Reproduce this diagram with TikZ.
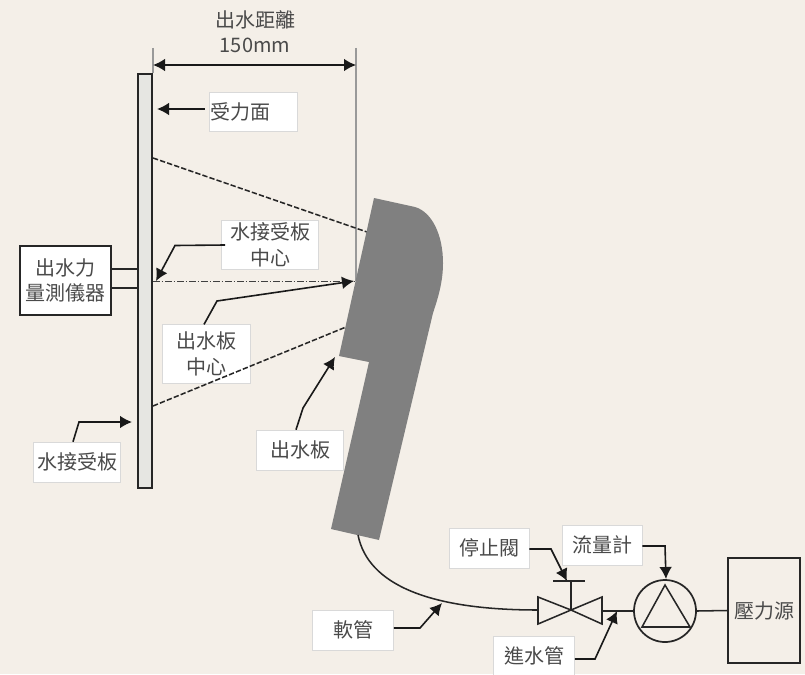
\documentclass[tikz,border=0pt]{standalone}
\usepackage{fontspec}
\setmainfont{Noto Sans CJK TC}
\usetikzlibrary{arrows.meta}
\definecolor{paper}{HTML}{F4EFE8}
\definecolor{inkgray}{HTML}{4A4A4A}
\definecolor{nozzlegray}{HTML}{808080}
\definecolor{platefill}{HTML}{E6E6E2}
\tikzset{
    labelbox/.style={fill=white, draw=black!15, line width=0.4pt, inner sep=0pt, text=inkgray,
        align=center, font=\fontsize{15}{19}\selectfont},
    devicebox/.style={draw=black!85, line width=1.3pt, fill=none, inner sep=0pt, text=inkgray,
        align=center, font=\fontsize{15}{19}\selectfont},
    leader/.style={draw=black!90, line width=1.2pt, -{Latex[length=9pt,width=9.5pt]}},
    pipe/.style={draw=black!85, line width=1.15pt},
    guide/.style={draw=black!40, line width=1.1pt},
    sprayline/.style={draw=black!85, line width=1.15pt, dash pattern=on 4pt off 1.6pt},
}
\begin{document}
\begin{tikzpicture}[x=0.75pt, y=-0.75pt]
    % Page
    \fill[paper] (0, 0) rectangle (805, 674);
    \useasboundingbox (0, 0) rectangle (805, 674);

    % Free ends of the connectors
    \coordinate (faceTop) at (153, 48);
    \coordinate (faceLow) at (153, 73);
    \coordinate (faceLeft) at (153, 65);
    \coordinate (faceRight) at (356, 65);
    \coordinate (railTop) at (356, 48);
    \coordinate (railEnd) at (356, 281);
    \coordinate (faceTip) at (157, 109);
    \coordinate (plateMid) at (153, 281);
    \coordinate (sprayTopA) at (153, 158);
    \coordinate (sprayTopB) at (367, 232);
    \coordinate (sprayLowA) at (153, 406);
    \coordinate (sprayLowB) at (346, 327);
    \coordinate (plateTip) at (156, 281);
    \coordinate (nozzleTip) at (354, 281);
    \coordinate (receiverTip) at (132, 422);
    \coordinate (nozzleLow) at (335, 357);
    \coordinate (hoseTip) at (442, 603);
    \coordinate (valveTip) at (567, 581);
    \coordinate (meterTip) at (666, 579);
    \coordinate (inletTip) at (617, 611);
    \coordinate (hoseStart) at (358, 535);

    % Labels
    \node[text=inkgray, align=center, font=\fontsize{15}{19}\selectfont] (distLabel) at (255, 32) {出水距離\\150mm};
    \node[labelbox, minimum width=66pt, minimum height=29pt, text width=64pt, align=left] (faceLabel) at (253, 112) {\raisebox{1pt}{受力面}};
    \node[labelbox, minimum width=73pt, minimum height=37pt] (plateMidLabel) at (270, 245) {水接受板\\中心};
    \node[labelbox, minimum width=66pt, minimum height=44pt] (nozzleMidLabel) at (206, 354) {出水板\\中心};
    \node[labelbox, minimum width=65pt, minimum height=30pt] (receiverLabel) at (77, 462) {水接受板};
    \node[labelbox, minimum width=65pt, minimum height=30pt] (nozzleLabel) at (300, 450) {出水板};
    \node[labelbox, minimum width=61pt, minimum height=30pt] (hoseLabel) at (353, 630) {軟管};
    \node[labelbox, minimum width=60pt, minimum height=30pt] (valveLabel) at (489, 548) {停止閥};
    \node[labelbox, minimum width=60pt, minimum height=30pt] (meterLabel) at (602, 545) {流量計};
    \node[labelbox, minimum width=61pt, minimum height=30pt] (inletLabel) at (534, 656) {進水管};

    % Distance
    \draw[guide] (faceTop) -- (faceLow);
    \draw[guide] (railTop) -- (railEnd);
    \draw[draw=black!90, line width=1.2pt, {Latex[length=9pt,width=9.5pt]}-{Latex[length=9pt,width=9.5pt]}] (faceLeft) -- (faceRight);

    % Receiving plate
    \node[draw=black!85, fill=platefill, line width=1.3pt, minimum width=10.5pt, minimum height=311pt, inner sep=0pt] (plate) at (145, 281) {};
    \node[devicebox, minimum width=68pt, minimum height=52pt, fill=white] (gauge) at (65.5, 280.5) {出水力\\量測儀器};
    \draw[pipe] (gauge.east |- 0, 269) -- (plate.west |- 0, 269);
    \draw[pipe] (gauge.east |- 0, 288) -- (plate.west |- 0, 288);

    % Spray lines
    \draw[sprayline] (sprayTopA) -- (sprayTopB);
    \draw[sprayline] (sprayLowA) -- (sprayLowB);
    \draw[draw=black!75, line width=0.7pt, dash pattern=on 5pt off 1.5pt on 1pt off 1.5pt] (plateMid) -- (railEnd);

    % Nozzle
    \fill[nozzlegray] (374, 198) -- (415, 207) .. controls (432, 212) and (443, 235) .. (443, 263)
        .. controls (443, 282) and (438, 298) .. (433, 313) -- (379, 540) -- (331, 529)
        -- (369, 362) -- (339, 356) -- cycle;

    % Leaders
    \draw[leader] (faceLabel.west) ++(-4, -3) -- (faceTip);
    \draw[leader] (plateMidLabel.west) ++(4, 0) -- (175, 245.5) -- (plateTip);
    \draw[leader] (nozzleMidLabel.north) ++(-2, 0) -- (217, 301) -- (nozzleTip);
    \draw[leader] (receiverLabel.north) ++(-4, 0) -- (79, 422) -- (receiverTip);
    \draw[leader] (nozzleLabel.north) ++(-4, 0) -- (303, 408) -- (nozzleLow);
    \draw[leader] (hoseLabel.east) ++(0, -2) -- (420, 628) -- (hoseTip);
    \draw[leader] (valveLabel.east) ++(0, 1) -- (551, 549) -- (valveTip);
    \draw[leader] (meterLabel.east) ++(0, 1) -- (665, 546) -- (meterTip);
    \draw[leader] (inletLabel.east) ++(0, 3) -- (595, 659) -- (inletTip);

    % Hose, valve, meter and source
    \node[circle, draw=black!85, line width=1.3pt, minimum size=46.5pt, inner sep=0pt] (meter) at (665, 611) {};
    \node[devicebox, minimum width=54pt, minimum height=79pt, fill=none] (source) at (764, 610.5) {壓力源};
    \coordinate (valveMid) at (571, 610);
    \coordinate (valveLeft) at (538, 610);
    \coordinate (valveRight) at (602, 611);
    \coordinate (stemTop) at (571, 581);
    \draw[pipe] (hoseStart) .. controls (368, 585) and (430, 610) .. (valveLeft);
    \draw[pipe] (valveRight) -- (meter.west);
    \draw[pipe] (meter.east) -- (source.west);
    \draw[pipe] (valveMid) -- (stemTop);
    \draw[pipe] (553, 581) -- (585, 581);
    \draw[pipe, line join=miter] (valveMid) -- (538, 597) -- (538, 624) -- cycle;
    \draw[pipe, line join=miter] (valveMid) -- (602, 597) -- (602, 624) -- cycle;
    \draw[pipe, line join=miter] (665, 585) -- (642, 627) -- (690, 627) -- cycle;
\end{tikzpicture}
\end{document}
